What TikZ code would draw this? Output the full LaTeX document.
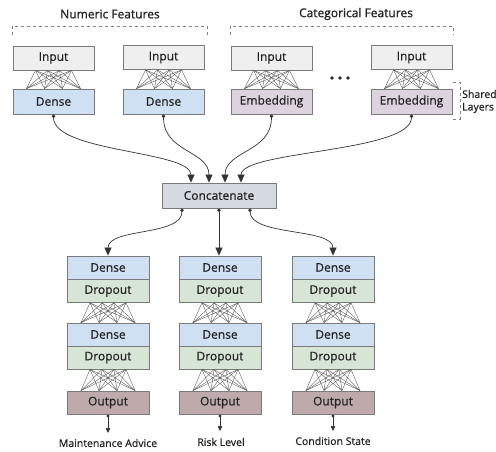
\documentclass[tikz,border=0pt]{standalone}
\usepackage{fontspec}
\setmainfont{Open Sans}[FakeBold=0.5]
\newfontfamily\medfont{Open Sans}[FakeBold=0.6]
\newfontfamily\headfont{Open Sans}[FakeBold=1.1]
\usetikzlibrary{arrows.meta,calc}
\definecolor{inpfill}{HTML}{EFEFEF}
\definecolor{densefill}{HTML}{CFE0F2}
\definecolor{embfill}{HTML}{DDD3DF}
\definecolor{catfill}{HTML}{D5DBE1}
\definecolor{dropfill}{HTML}{D7E5D6}
\definecolor{outfill}{HTML}{BFAAAB}
\definecolor{boxline}{HTML}{7A7A7A}
\definecolor{meshcol}{HTML}{505050}
\definecolor{txt}{HTML}{222222}
\tikzset{
  lay/.style={draw=boxline, line width=0.8pt, minimum width=81pt, minimum height=24pt, inner sep=0pt, font=\medfont\fontsize{12}{14}\selectfont, text=txt},
  inp/.style={lay, fill=inpfill},
  dns/.style={lay, fill=densefill, minimum height=25pt},
  emb/.style={lay, fill=embfill, minimum height=25pt},
  cdense/.style={lay, fill=densefill, minimum width=82pt, minimum height=23pt},
  cdrop/.style={lay, fill=dropfill, minimum width=82pt, minimum height=23pt},
  cout/.style={lay, fill=outfill, minimum width=82pt, minimum height=23pt},
  cat/.style={lay, fill=catfill, minimum width=114pt, minimum height=25pt},
  mesh/.style={draw=meshcol, line width=0.35pt},
  head/.style={font=\headfont\fontsize{12}{14}\selectfont, text=txt},
  lbl/.style={font=\medfont\fontsize{10.5}{12}\selectfont, text=txt},
  bracket/.style={draw=gray, dashed, line width=0.6pt, dash pattern=on 3pt off 3pt},
  flow/.style={draw=black!80, line width=0.7pt, {Circle[length=3.5pt]}-{Triangle[length=8pt,width=7pt]}},
  outflow/.style={draw=black!80, line width=0.7pt, {Circle[length=3pt]}-{Triangle[length=5pt,width=4.5pt]}},
}
\newcommand{\meshbetween}[2]{%
  \foreach \a in {-18,-6,6,18}{\foreach \b in {-27,-9,9,27}{%
    \draw[mesh] ([xshift=\a pt]#1.south) -- ([xshift=\b pt]#2.north);}}}
\begin{document}
\begin{tikzpicture}[x=1pt,y=-1pt]
\useasboundingbox (0,0) rectangle (496,451);
% headings
\node[head] (hnum) at (110,14) {Numeric Features};
\node[head] (hcat) at (356,14) {Categorical Features};
\draw[bracket] (12,35) -- (12,26) -- (207,26) -- (207,35);
\draw[bracket] (230,35) -- (230,26) -- (453,26) -- (453,35);
% input row
\node[inp] (in1) at (53.5,58) {Input};
\node[inp] (in2) at (163.5,57.5) {Input};
\node[inp] (in3) at (271.5,58) {Input};
\node[inp] (in4) at (411.5,57.5) {Input};
\node[dns] (d1) at (53.5,101.5) {Dense};
\node[dns] (d2) at (163.5,101.5) {Dense};
\node[emb] (e3) at (271.5,101.5) {Embedding};
\node[emb] (e4) at (411.5,101.5) {Embedding};
\meshbetween{in1}{d1}
\meshbetween{in2}{d2}
\meshbetween{in3}{e3}
\meshbetween{in4}{e4}
% dots
\fill[black!85] (332,78) circle (1.8) (340,78) circle (1.8) (348,78) circle (1.8);
% shared layers bracket
\draw[bracket] (453,82) -- (460,82) -- (460,119) -- (453,119);
\node[lbl, anchor=west, inner sep=0pt] (sh1) at (462,94) {Shared};
\node[lbl, anchor=west, inner sep=0pt] (sh2) at (462,108) {Layers};
% concatenate
\node[cat] (cc) at (219,195.5) {Concatenate};
\draw[flow] (d1.south) .. controls +(0,38) and +(0,-32) .. ([xshift=-28pt]cc.north);
\draw[flow] (d2.south) .. controls +(0,38) and +(0,-32) .. ([xshift=-10pt]cc.north);
\draw[flow] (e3.south) .. controls +(0,38) and +(0,-32) .. ([xshift=6pt]cc.north);
\draw[flow] (e4.south) .. controls +(0,38) and +(0,-32) .. ([xshift=22pt]cc.north);
% columns
\foreach \c/\x in {1/108,2/220,3/333}{
  \node[cdense] (c\c a) at (\x,267.5) {Dense};
  \node[cdrop] (c\c b) at (\x,291) {Dropout};
  \node[cdense] (c\c c) at (\x,334.5) {Dense};
  \node[cdrop] (c\c d) at (\x,357.5) {Dropout};
  \node[cout] (c\c e) at (\x,402.5) {Output};
  \meshbetween{c\c b}{c\c c}
  \meshbetween{c\c d}{c\c e}
}
\draw[flow] ([xshift=-37pt]cc.south) .. controls +(0,28) and +(0,-28) .. (c1a.north);
\draw[flow] (cc.south) -- (cc.south |- c2a.north);
\draw[flow] ([xshift=31pt]cc.south) .. controls +(0,28) and +(0,-28) .. (c3a.north);
% outputs
\coordinate (o1) at (108,433);
\coordinate (o2) at (220,431);
\coordinate (o3) at (333,431);
\draw[outflow] (c1e.south) -- (o1);
\draw[outflow] (c2e.south) -- (o2);
\draw[outflow] (c3e.south) -- (o3);
\node[lbl] (l1) at (108,443) {Maintenance Advice};
\node[lbl] (l2) at (221,442) {Risk Level};
\node[lbl] (l3) at (333,441) {Condition State};
\end{tikzpicture}
\end{document}
